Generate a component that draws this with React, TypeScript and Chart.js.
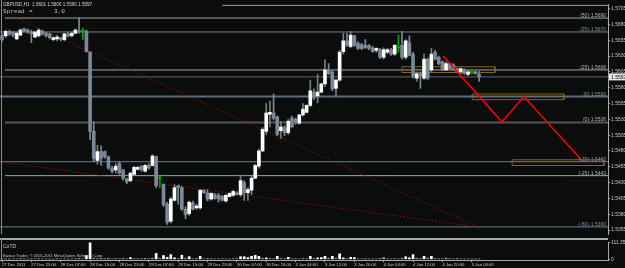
import React, { useEffect, useRef } from "react";
import { Chart, registerables } from "chart.js";

Chart.register(...registerables);

// ---------- data (GBPUSD H1) ----------
const opens = [
  1.5662, 1.5662, 1.5669, 1.5668, 1.5657, 1.5663, 1.5673, 1.5671, 1.5668, 1.566,
  1.5662, 1.5669, 1.5666, 1.5665, 1.5656, 1.5657, 1.5659, 1.5656, 1.5665, 1.5662,
  1.5666, 1.5669, 1.5669, 1.5669, 1.5636, 1.5511, 1.5465, 1.5479, 1.5479, 1.5471,
  1.5453, 1.545, 1.546, 1.545, 1.5436, 1.5433, 1.5443, 1.5451, 1.5456, 1.5448,
  1.5457, 1.5457, 1.5471, 1.5437, 1.5427, 1.5396, 1.5369, 1.5402, 1.5425, 1.5422,
  1.5388, 1.5381, 1.5398, 1.539, 1.539, 1.5418, 1.5414, 1.5404, 1.5411, 1.541,
  1.5408, 1.5401, 1.5408, 1.541, 1.5414, 1.5411, 1.543, 1.5414, 1.5418, 1.5437,
  1.5456, 1.548, 1.5511, 1.5538, 1.554, 1.5534, 1.5512, 1.5517, 1.5509, 1.5532,
  1.553, 1.5524, 1.5537, 1.5541, 1.5552, 1.5573, 1.5567, 1.5573, 1.5586, 1.5608,
  1.5605, 1.5579, 1.5592, 1.5637, 1.5654, 1.5645, 1.5662, 1.565, 1.5648, 1.5647,
  1.5647, 1.5643, 1.5639, 1.564, 1.5628, 1.5636, 1.564, 1.5633, 1.5643, 1.5647,
  1.5628, 1.5651, 1.5633, 1.5595, 1.5602, 1.5595, 1.5625, 1.5608, 1.5636, 1.5628,
  1.5621, 1.5608, 1.5618, 1.5616, 1.561, 1.5605, 1.5608, 1.5601, 1.5605, 1.5605,
  1.5601,
];
const highs = [
  1.5665, 1.5671, 1.5671, 1.5669, 1.5668, 1.5673, 1.5674, 1.5673, 1.5671, 1.5669,
  1.5673, 1.5671, 1.5668, 1.5666, 1.566, 1.5663, 1.566, 1.5666, 1.5668, 1.5668,
  1.5673, 1.5691, 1.5674, 1.5671, 1.5637, 1.5526, 1.5489, 1.5488, 1.548, 1.5472,
  1.5456, 1.546, 1.5463, 1.5451, 1.5437, 1.5446, 1.5456, 1.5456, 1.5457, 1.5459,
  1.546, 1.5474, 1.5472, 1.5442, 1.5428, 1.5399, 1.5407, 1.5427, 1.5426, 1.5424,
  1.5392, 1.5401, 1.5401, 1.5396, 1.5419, 1.5419, 1.5419, 1.5414, 1.5413, 1.5413,
  1.541, 1.5411, 1.5414, 1.5418, 1.5416, 1.5442, 1.5433, 1.5422, 1.544, 1.5459,
  1.5483, 1.5517, 1.5555, 1.5559, 1.557, 1.5535, 1.5527, 1.552, 1.553, 1.5535,
  1.5532, 1.5538, 1.5555, 1.5553, 1.5592, 1.5578, 1.5601, 1.5587, 1.5624, 1.5618,
  1.5607, 1.5593, 1.5639, 1.5666, 1.5666, 1.5669, 1.5663, 1.5653, 1.565, 1.5656,
  1.5648, 1.5645, 1.5643, 1.5642, 1.5643, 1.5642, 1.5642, 1.5648, 1.5663, 1.5669,
  1.5656, 1.5662, 1.5636, 1.5605, 1.5605, 1.5633, 1.5627, 1.5642, 1.5639, 1.563,
  1.5622, 1.5621, 1.5619, 1.5618, 1.5611, 1.5611, 1.561, 1.5608, 1.5608, 1.5606,
  1.5606,
];
const lows = [
  1.5653, 1.5659, 1.5662, 1.566, 1.5656, 1.5662, 1.5668, 1.5666, 1.5651, 1.5659,
  1.566, 1.5663, 1.566, 1.5657, 1.5654, 1.5654, 1.5654, 1.5654, 1.566, 1.566,
  1.5665, 1.5666, 1.5656, 1.5636, 1.5498, 1.5463, 1.5459, 1.5457, 1.5468, 1.5451,
  1.5445, 1.5445, 1.5443, 1.5434, 1.5428, 1.5431, 1.5442, 1.545, 1.5448, 1.5447,
  1.5451, 1.5456, 1.5422, 1.5422, 1.5392, 1.5364, 1.5366, 1.5401, 1.5396, 1.5386,
  1.5373, 1.5378, 1.5387, 1.5388, 1.5388, 1.5413, 1.5401, 1.5402, 1.5404, 1.5399,
  1.5401, 1.5399, 1.5407, 1.5408, 1.541, 1.5408, 1.5402, 1.5402, 1.5411, 1.5436,
  1.5453, 1.5479, 1.5506, 1.5518, 1.5529, 1.5504, 1.55, 1.5504, 1.5506, 1.5517,
  1.5522, 1.5522, 1.5535, 1.554, 1.555, 1.5561, 1.5556, 1.5572, 1.5582, 1.5601,
  1.5575, 1.5567, 1.559, 1.5633, 1.5645, 1.5643, 1.5645, 1.564, 1.564, 1.5642,
  1.564, 1.5636, 1.5636, 1.5626, 1.5625, 1.5634, 1.5631, 1.5631, 1.5636, 1.5625,
  1.5625, 1.563, 1.5595, 1.559, 1.5579, 1.5593, 1.5593, 1.5605, 1.5624, 1.5616,
  1.5607, 1.5607, 1.5608, 1.5607, 1.5604, 1.5602, 1.5601, 1.5599, 1.5601, 1.5601,
  1.559,
];
const closes = [
  1.5656, 1.5669, 1.5665, 1.5663, 1.5666, 1.5671, 1.5669, 1.5668, 1.5665, 1.5668,
  1.5671, 1.5665, 1.5662, 1.5659, 1.5659, 1.566, 1.5656, 1.5665, 1.5662, 1.5666,
  1.5671, 1.5668, 1.5669, 1.5637, 1.5511, 1.5468, 1.5479, 1.5468, 1.5471, 1.5453,
  1.5448, 1.5456, 1.5445, 1.5437, 1.5431, 1.5445, 1.5454, 1.5454, 1.545, 1.5457,
  1.5453, 1.5472, 1.5425, 1.5437, 1.5395, 1.5367, 1.5404, 1.5422, 1.5422, 1.5388,
  1.5379, 1.5399, 1.5388, 1.5393, 1.5418, 1.5414, 1.5404, 1.5413, 1.5405, 1.5404,
  1.5402, 1.541, 1.5413, 1.5416, 1.5411, 1.5433, 1.5414, 1.5419, 1.5437, 1.5457,
  1.548, 1.5514, 1.554, 1.5541, 1.5532, 1.5506, 1.5518, 1.5509, 1.5527, 1.5518,
  1.5526, 1.5537, 1.5546, 1.5552, 1.5575, 1.5564, 1.5573, 1.5586, 1.5608, 1.5602,
  1.5578, 1.5592, 1.5636, 1.5654, 1.5647, 1.5663, 1.5647, 1.5642, 1.5642, 1.5643,
  1.5642, 1.5637, 1.5642, 1.5628, 1.564, 1.564, 1.5633, 1.5647, 1.5643, 1.5628,
  1.5654, 1.5631, 1.5598, 1.5602, 1.5599, 1.5625, 1.5595, 1.5633, 1.5625, 1.5618,
  1.5608, 1.5618, 1.561, 1.5608, 1.5605, 1.561, 1.5602, 1.5605, 1.5605, 1.5602,
  1.5597,
];
// CoTD indicator histogram
const volumes = [
  3, 5, 2, 4, 3, 6, 2, 4, 5, 3, 5, 3, 4, 2, 3, 5, 4, 3, 2, 4,
  5, 7, 4, 26, 111.35, 9, 6, 7, 5, 8, 4, 6, 5, 7, 4, 12, 6, 5, 4, 7,
  5, 9, 40, 8, 26, 14, 32, 10, 6, 28, 8, 18, 5, 6, 21, 4, 6, 5, 3, 4,
  5, 4, 3, 5, 6, 18, 18, 12, 21, 27, 20, 8, 10, 6, 5, 21, 6, 5, 14, 4,
  5, 3, 6, 4, 21, 6, 10, 12, 21, 9, 21, 8, 37, 10, 6, 14, 12, 4, 3, 5,
  4, 3, 4, 6, 12, 4, 3, 5, 4, 8, 18, 10, 32, 8, 6, 21, 9, 21, 6, 5,
  4, 8, 5, 4, 6, 3, 4, 3, 2, 3, 2,
];
const yellowVolumeBars = [104, 121, 125];

const xTickIdx = [0, 8, 16, 24, 32, 40, 48, 56, 64, 72, 80, 88, 96, 104, 112, 120, 128];
const xTickLabels = [
  "27 Dec 2011", "27 Dec 23:00", "28 Dec 07:00", "28 Dec 15:00", "28 Dec 23:00",
  "29 Dec 07:00", "29 Dec 15:00", "29 Dec 23:00", "30 Dec 07:00", "30 Dec 15:00",
  "3 Jan 04:00", "3 Jan 12:00", "3 Jan 20:00", "4 Jan 04:00", "4 Jan 12:00",
  "4 Jan 20:00", "5 Jan 04:00",
];
const priceTicks = [
  1.5705, 1.568, 1.5655, 1.563, 1.5605, 1.558, 1.5555, 1.553, 1.5505, 1.548,
  1.5455, 1.543, 1.5405, 1.538, 1.5355,
];

// horizontal levels
const levelPrices = [1.571, 1.569, 1.5668, 1.5608, 1.5566, 1.5525, 1.5463, 1.5441, 1.536];
const levelLabels = [
  "", "(50)·1.5690", "(25)·1.5670", "(25)·1.5608", "[0]·1.5566",
  "(0)·1.5526", "(-25)·1.5463", "(-25)·1.5443", "(-50)·1.5360",
];
const levelStartBar = [60, 0.8, -1, 0.8, -1, 0.8, -1, 0.8, -1];
const levelColors = ["#9c9c9c", "#a4a4a4", "#6f8092", "#a4a4a4", "#5d6d7e", "#555555", "#6f8092", "#a4a4a4", "#6f8092"];
const levelWidths = [1, 1, 1, 1, 2, 2, 1, 1, 1];

// projection zig-zag
const zigBars = [120.2, 136.2, 142.2, 158];
const zigPrices = [1.563, 1.5526, 1.5566, 1.5465];

// dotted trend lines
const trend1Bars = [3, 129.7];
const trend1Prices = [1.5692, 1.536];
const trend2Bars = [-0.5, 129.4];
const trend2Prices = [1.5463, 1.536];

// zones (rectangles)
const zoneStart = [109, 128.1, 139];
const zoneEnd = [134.3, 153.1, 164];
const zoneTop = [1.5613, 1.557, 1.5466];
const zoneBottom = [1.5604, 1.5561, 1.5457];

// ---------- styles ----------
const X_MIN = -0.545;
const X_MAX = 165.12;
const Y_MIN = 1.53488;
const Y_MAX = 1.57122;
const BG = "#0b0c0c";
const BULL = "#ffffff";
const BEAR = "#7a8898";
const DOJI = "#00a800";
const AXIS = "#a8a8a8";
const TEXT = "#c8c8c8";
const FONT = "'Liberation Sans'";

export default function App() {
  const mainRef = useRef<HTMLCanvasElement>(null);
  const subRef = useRef<HTMLCanvasElement>(null);

  useEffect(() => {
    const idx = opens.map((_, i) => i);
    const doji = (i: number) => opens[i] === closes[i];
    const bodyColors = idx.map((i) => (doji(i) ? DOJI : closes[i] > opens[i] ? BULL : BEAR));
    const wickColors = idx.map((i) => (doji(i) ? DOJI : closes[i] > opens[i] ? "#7c7c7c" : BEAR));

    const levelSets: any[] = levelPrices.map((p, k) => ({
      type: "line",
      data: [
        { x: levelStartBar[k], y: p },
        { x: X_MAX + 2, y: p },
      ],
      borderColor: levelColors[k],
      borderWidth: levelWidths[k],
      pointRadius: 0,
      order: 20,
    }));
    const bidSet: any = {
      type: "line",
      data: [
        { x: -1, y: closes[closes.length - 1] },
        { x: X_MAX + 2, y: closes[closes.length - 1] },
      ],
      borderColor: "#6a6660",
      borderWidth: 1,
      pointRadius: 0,
      order: 19,
    };
    const zoneSets: any[] = zoneStart.map((s, k) => ({
      type: "line",
      data: [
        { x: s, y: zoneTop[k] },
        { x: zoneEnd[k], y: zoneTop[k] },
        { x: zoneEnd[k], y: zoneBottom[k] },
        { x: s, y: zoneBottom[k] },
        { x: s, y: zoneTop[k] },
      ],
      borderColor: "#8a6712",
      borderWidth: 1,
      pointRadius: 0,
      tension: 0,
      order: 5,
    }));
    const trendSet = (bx: number[], py: number[]): any => ({
      type: "line",
      data: bx.map((b, i) => ({ x: b, y: py[i] })),
      borderColor: "#a01010",
      borderWidth: 1,
      borderDash: [1.4, 2.2],
      pointRadius: 0,
      order: 15,
    });
    const zigSet: any = {
      type: "line",
      data: zigBars.map((b, i) => ({ x: b, y: zigPrices[i] })),
      borderColor: "#ff0000",
      borderWidth: 1.5,
      pointRadius: 0,
      order: 0,
    };

    const mainText = {
      id: "mainText",
      afterDraw(chart: any) {
        const ctx = chart.ctx;
        const ys = chart.scales.y;
        const area = chart.chartArea;
        ctx.save();
        // left frame
        ctx.fillStyle = "#8a8a8a";
        ctx.fillRect(1, 0, 1, area.bottom);
        // level labels
        ctx.font = `5px ${FONT}`;
        ctx.textAlign = "right";
        ctx.textBaseline = "alphabetic";
        levelPrices.forEach((p, k) => {
          if (!levelLabels[k]) return;
          ctx.fillStyle = k === 2 || k === 4 || k === 6 || k === 8 ? "#8393a3" : "#b4b4b4";
          ctx.fillText(levelLabels[k], area.right - 2, ys.getPixelForValue(p) - 1);
        });
        // header
        ctx.textAlign = "left";
        ctx.fillStyle = "#d8d8d8";
        ctx.font = `4.6px ${FONT}`;
        ctx.fillText("GBPUSD,H1  1.5601 1.5606 1.5590 1.5597", 3, 6);
        ctx.font = `6px 'Liberation Mono'`;
        ctx.fillStyle = "#c0c0c0";
        ctx.fillText("Spread", 3, 12.5);
        ctx.fillText("=", 29, 12.5);
        ctx.fillText("3.0", 54, 12.5);
        // current price box
        const last = closes[closes.length - 1];
        const py = ys.getPixelForValue(last);
        ctx.fillStyle = "#e8e8e8";
        ctx.fillRect(area.right + 1, py - 3.5, 16, 7);
        ctx.fillStyle = "#000000";
        ctx.font = `5px ${FONT}`;
        ctx.textBaseline = "middle";
        ctx.fillText(last.toFixed(4), area.right + 3, py + 0.3);
        ctx.restore();
      },
    };

    const main = new Chart(mainRef.current as HTMLCanvasElement, {
      type: "bar",
      data: {
        datasets: [
          zigSet,
          {
            type: "bar",
            data: idx.map((i) => ({ x: i, y: [opens[i], closes[i]] })),
            backgroundColor: bodyColors,
            barThickness: 3,
            minBarLength: 1,
            grouped: false,
            order: 1,
          } as any,
          {
            type: "bar",
            data: idx.map((i) => ({ x: i, y: [lows[i], highs[i]] })),
            backgroundColor: wickColors,
            barThickness: 1,
            grouped: false,
            order: 2,
          } as any,
          ...zoneSets,
          trendSet(trend1Bars, trend1Prices),
          trendSet(trend2Bars, trend2Prices),
          bidSet,
          ...levelSets,
        ],
      },
      options: {
        responsive: false,
        animation: false,
        layout: { padding: 0 },
        plugins: { legend: { display: false }, tooltip: { enabled: false } },
        scales: {
          x: {
            type: "linear",
            min: X_MIN,
            max: X_MAX,
            display: false,
            offset: false,
            grid: { display: false, offset: false },
          },
          y: {
            position: "right",
            min: Y_MIN,
            max: Y_MAX,
            grid: { display: true, drawOnChartArea: false, drawTicks: true, tickLength: 2, color: AXIS },
            border: { display: true, color: AXIS },
            ticks: {
              color: TEXT,
              font: { size: 5, family: FONT },
              padding: 1,
              callback: (v: any) => Number(v).toFixed(4),
            },
            afterBuildTicks: (s: any) => {
              s.ticks = priceTicks.map((v) => ({ value: v }));
            },
            afterFit: (s: any) => {
              s.width = 17;
            },
          } as any,
        },
      },
      plugins: [mainText],
    });

    const volColors = idx.map((i) =>
      yellowVolumeBars.includes(i) ? "#c8a020" : volumes[i] >= 10 ? "#ffffff" : "#8090a0"
    );

    const subText = {
      id: "subText",
      afterDraw(chart: any) {
        const ctx = chart.ctx;
        const area = chart.chartArea;
        ctx.save();
        ctx.fillStyle = "#a8a8a8";
        ctx.fillRect(0, 0, area.right, 2);
        ctx.fillStyle = "#8a8a8a";
        ctx.fillRect(1, 0, 1, area.bottom);
        ctx.textAlign = "left";
        ctx.textBaseline = "middle";
        ctx.fillStyle = "#c8c8c8";
        ctx.font = `5px ${FONT}`;
        ctx.fillText("CoTD", 3, area.top + 4.5);
        ctx.font = `4px ${FONT}`;
        ctx.fillText("Basico Trader, © 2001-2011 MetaQuotes Software Corp.", 3, area.top + 14);
        ctx.restore();
      },
    };

    const sub = new Chart(subRef.current as HTMLCanvasElement, {
      type: "bar",
      data: {
        datasets: [
          {
            data: idx.map((i) => ({ x: i, y: [0, volumes[i]] })),
            backgroundColor: volColors,
            barThickness: 2,
            grouped: false,
          } as any,
        ],
      },
      options: {
        responsive: false,
        animation: false,
        layout: { padding: { top: 2, left: 0, right: 0, bottom: 0 } },
        plugins: { legend: { display: false }, tooltip: { enabled: false } },
        scales: {
          x: {
            type: "linear",
            min: X_MIN,
            max: X_MAX,
            offset: false,
            position: "bottom",
            grid: { display: true, drawOnChartArea: false, drawTicks: true, tickLength: 2, color: AXIS, offset: false },
            border: { display: true, color: AXIS },
            ticks: {
              color: TEXT,
              font: { size: 4.2, family: FONT },
              align: "start",
              autoSkip: false,
              maxRotation: 0,
              padding: 0,
              callback: (_v: any, i: number) => xTickLabels[i],
            },
            afterBuildTicks: (s: any) => {
              s.ticks = xTickIdx.map((v) => ({ value: v }));
            },
            afterFit: (s: any) => {
              s.height = 8;
            },
          } as any,
          y: {
            position: "right",
            min: -4.3,
            max: 117.4,
            grid: { display: true, drawOnChartArea: false, drawTicks: true, tickLength: 2, color: AXIS },
            border: { display: true, color: AXIS },
            ticks: {
              color: TEXT,
              font: { size: 5, family: FONT },
              padding: 1,
              callback: (v: any) => (Number(v) === 0 ? "0" : "111.35"),
            },
            afterBuildTicks: (s: any) => {
              s.ticks = [{ value: 111.35 }, { value: 0 }];
            },
            afterFit: (s: any) => {
              s.width = 17;
            },
          } as any,
        },
      },
      plugins: [subText],
    });

    return () => {
      main.destroy();
      sub.destroy();
    };
  }, []);

  return (
    <div style={{ position: "fixed", left: 0, top: 0, width: 625, height: 268, background: BG, overflow: "hidden" }}>
      <canvas ref={mainRef} width={625} height={238} style={{ position: "absolute", left: 0, top: 0, width: 625, height: 238 }} />
      <canvas ref={subRef} width={625} height={30} style={{ position: "absolute", left: 0, top: 238, width: 625, height: 30 }} />
    </div>
  );
}
